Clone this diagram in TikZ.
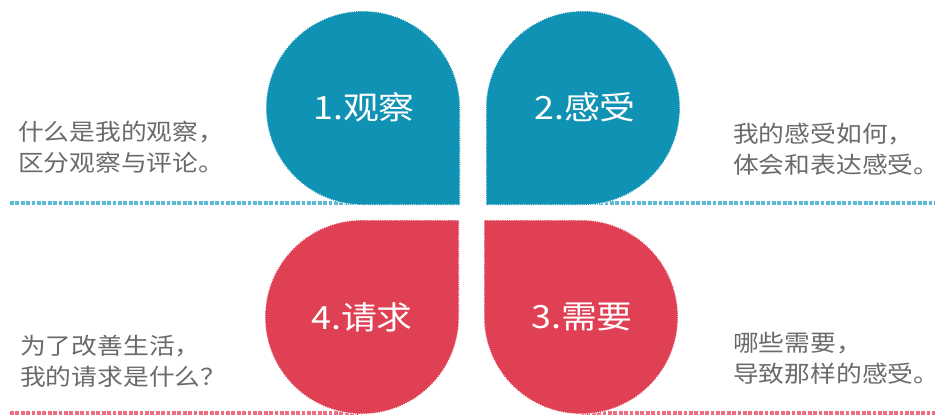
\documentclass[tikz,border=0pt]{standalone}
\usepackage{fontspec}
\newfontfamily\cjk[FakeStretch=1.12]{Noto Sans CJK SC}
\definecolor{petalblue}{HTML}{1092B4}
\definecolor{petalred}{HTML}{E04054}
\definecolor{lineblue}{HTML}{5CBAD4}
\definecolor{linered}{HTML}{EA6E80}
\definecolor{txtgray}{HTML}{6A6A6A}
\tikzset{
  petal/.style={draw=white, line width=1.1pt, dash pattern=on 1.1pt off 1.1pt},
  sepline/.style={line width=3.2pt, dash pattern=on 3.8pt off 1.6pt},
  label/.style={text=white, font=\cjk\fontsize{32}{36}\selectfont, inner sep=0pt},
  side/.style={text=txtgray, font=\cjk\fontsize{23}{31}\selectfont, align=left, inner sep=0pt, anchor=west},
}
\begin{document}
\begin{tikzpicture}[x=1pt,y=1pt]
\useasboundingbox (0,0) rectangle (940,416);
% dotted separator lines
\coordinate (bl1) at (10,213);
\coordinate (bl2) at (363,213);
\coordinate (br1) at (583,213);
\coordinate (br2) at (935,213);
\coordinate (rl1) at (10,3);
\coordinate (rl2) at (362,3);
\coordinate (rr1) at (581,3);
\coordinate (rr2) at (935,3);
\draw[sepline, lineblue] (bl1) -- (bl2);
\draw[sepline, lineblue] (br1) -- (br2);
\draw[sepline, linered] (rl1) -- (rl2);
\draw[sepline, linered] (rr1) -- (rr2);
% petals
\path[petal, fill=petalblue] (460,308) -- (460,211) -- (363,211) arc[start angle=270, end angle=0, radius=97] -- cycle;
\path[petal, fill=petalblue] (486,308) -- (486,211) -- (583,211) arc[start angle=-90, end angle=180, radius=97] -- cycle;
\path[petal, fill=petalred] (459,99) -- (459,196) -- (362,196) arc[start angle=90, end angle=360, radius=97] -- cycle;
\path[petal, fill=petalred] (484,99) -- (484,196) -- (581,196) arc[start angle=90, end angle=-180, radius=97] -- cycle;
% labels
\node[label] (l1) at (364,309) {1.观察};
\node[label] (l2) at (585,309) {2.感受};
\node[label] (l4) at (362,99) {4.请求};
\node[label] (l3) at (582,99) {3.需要};
% side texts
\node[side] (t1) at (18,269) {什么是我的观察，\\区分观察与评论。};
\node[side] (t2) at (733,267) {我的感受如何，\\体会和表达感受。};
\node[side] (t4) at (20,55) {为了改善生活，\\我的请求是什么？};
\node[side] (t3) at (733,58) {哪些需要，\\导致那样的感受。};
\end{tikzpicture}
\end{document}
